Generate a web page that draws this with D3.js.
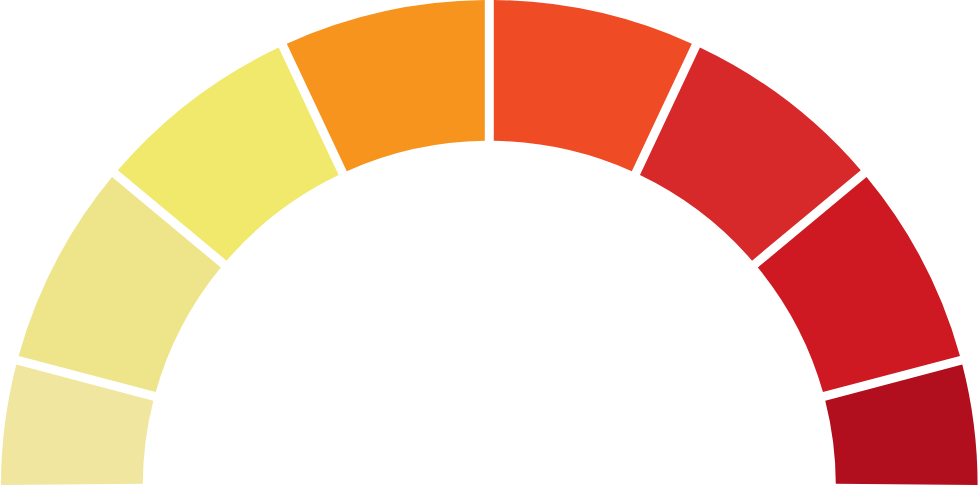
<!DOCTYPE html>
<html>
<head>
<meta charset="utf-8">
<script src="https://cdn.jsdelivr.net/npm/d3@7"></script>
<style>
  html, body { margin: 0; padding: 0; background: #fff; overflow: hidden; }
  svg { display: block; }
</style>
</head>
<body>
<svg id="chart" width="978" height="486"></svg>
<script>
const categories = ["Band 1", "Band 2", "Band 3", "Band 4", "Band 5", "Band 6", "Band 7", "Band 8"];
const values = [15, 25, 25, 25, 25, 25, 25, 15];
const colors = ["#F0E6A0", "#EEE58B", "#F0E96B", "#F7941E", "#EF4B24", "#D7282A", "#CE1922", "#B10E1E"];

const W = 978, H = 486;
const cx = 489.3, cy = 485;
const outerR = 488.3, innerR = 346.5;
const gap = 9;
const pa = gap / outerR;

const svg = d3.select("#chart");
const g = svg.append("g")
  .attr("transform", `translate(${cx},${cy}) scale(1, ${485 / 488.3})`);

const pie = d3.pie()
  .sort(null)
  .value(d => d.v)
  .startAngle(-Math.PI / 2 - pa / 2)
  .endAngle(Math.PI / 2 + pa / 2)
  .padAngle(pa);

const arc = d3.arc()
  .innerRadius(innerR)
  .outerRadius(outerR)
  .padRadius(outerR);

const data = categories.map((c, i) => ({ c, v: values[i], color: colors[i] }));

g.selectAll("path")
  .data(pie(data))
  .join("path")
  .attr("d", arc)
  .attr("fill", d => d.data.color);
</script>
</body>
</html>
